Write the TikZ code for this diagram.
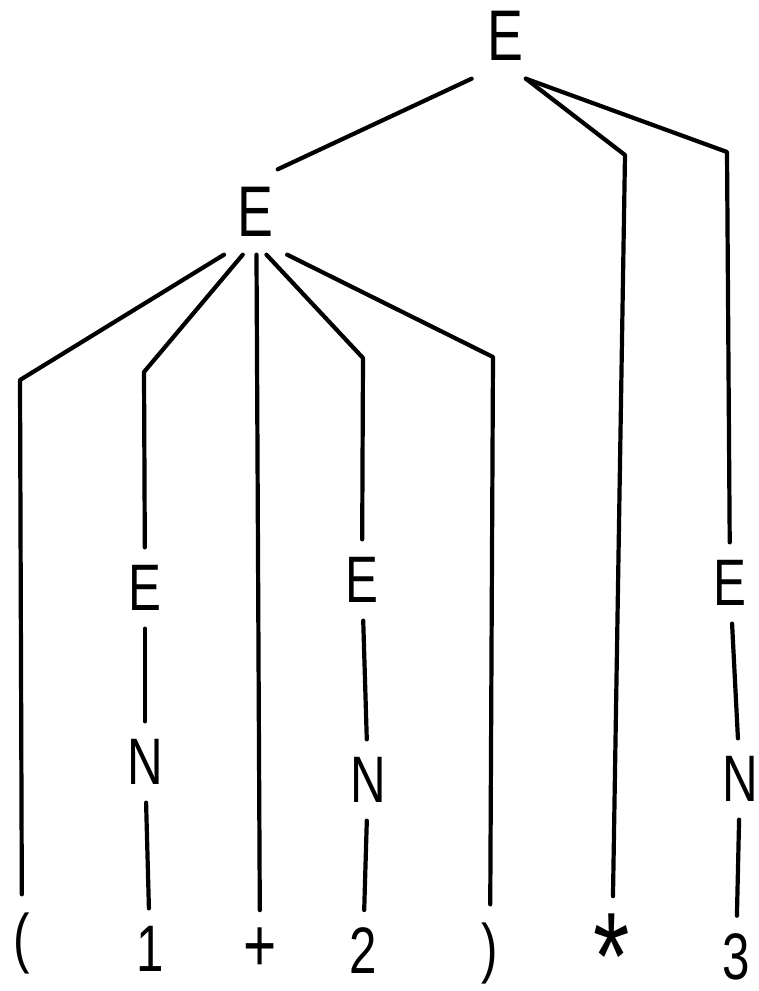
\documentclass[tikz,border=0pt]{standalone}
\usepackage{fontspec}
\setmainfont{Liberation Sans}[FakeStretch=0.75]
\usepackage{tikz}
\tikzstyle{sym} = [inner sep=0pt, outer sep=18bp, font=\fontsize{66}{66}\selectfont]
\tikzstyle{big} = [font=\fontsize{72}{72}\selectfont]
\tikzstyle{edge} = [line width=4.2bp, line cap=round, line join=round]

\begin{document}
\begin{tikzpicture}[x=1bp,y=-1bp]
    \useasboundingbox (0,0) rectangle (759,991);
    % nonterminals
    \node[sym,big](E0) at (505,36){E};
    \node[sym,big](E1) at (255,212){E};
    \node[sym](E2) at (145,588){E};
    \node[sym](E3) at (362,580){E};
    \node[sym](E4) at (730,583){E};
    \node[sym](N2) at (145,762){N};
    \node[sym](N3) at (368,780){N};
    \node[sym](N4) at (740,779){N};
    % terminals
    \node[sym](lp) at (22,943){(};
    \node[sym](one) at (150,949){1};
    \node[sym,font=\fontsize{76}{76}\selectfont](plus) at (260,950){+};
    \node[sym](two) at (363,951){2};
    \node[sym](rp) at (490,953){)};
    \node[sym,font=\fontsize{125}{125}\selectfont](star) at (612,957){*};
    \node[sym](three) at (736,957){3};
    % bends
    \coordinate (k0) at (625,155);
    \coordinate (k1) at (727,152);
    \coordinate (k2) at (20,380);
    \coordinate (k3) at (144,372);
    \coordinate (k4) at (363,358);
    \coordinate (k5) at (493,357);
    \draw[edge](E0.-128)--(E1.62);
    \draw[edge](E0.-64)--(k0)--(star);
    \draw[edge](E0.-64)--(k1)--(E4);
    \draw[edge](E1.-126)--(k2)--(lp);
    \draw[edge](E1.-106)--(k3)--(E2);
    \draw[edge](E1.-88)--(plus);
    \draw[edge](E1.-75)--(k4)--(E3);
    \draw[edge](E1.-53)--(k5)--(rp);
    \draw[edge](E2)--(N2);
    \draw[edge](N2)--(one);
    \draw[edge](E3)--(N3);
    \draw[edge](N3)--(two);
    \draw[edge](E4)--(N4);
    \draw[edge](N4)--(three);
\end{tikzpicture}
\end{document}
